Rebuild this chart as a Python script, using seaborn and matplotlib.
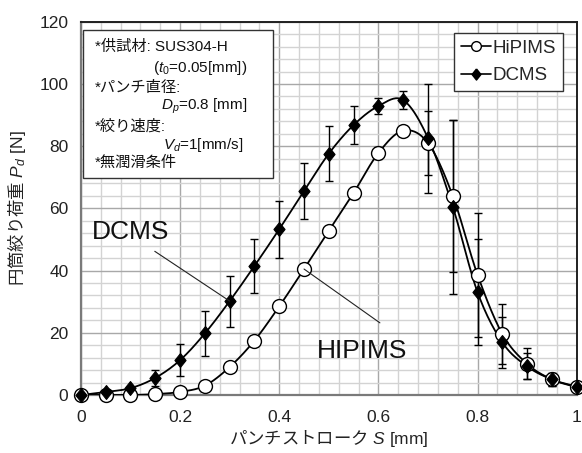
import numpy as np
import pandas as pd
import matplotlib
matplotlib.use("Agg")
import matplotlib.pyplot as plt
from matplotlib.ticker import MultipleLocator
from matplotlib.lines import Line2D
from matplotlib.patches import Rectangle
import seaborn as sns

# ---- data ----
stroke = [0.0, 0.05, 0.10, 0.15, 0.20, 0.25, 0.30, 0.35, 0.40, 0.45, 0.50,
          0.55, 0.60, 0.65, 0.70, 0.75, 0.80, 0.85, 0.90, 0.95, 1.00]
hipims = [0.0, 0.0, 0.0, 0.3, 1.0, 3.0, 9.0, 17.5, 28.5, 40.5, 52.8,
          65.0, 77.8, 85.0, 81.0, 64.0, 38.6, 19.6, 10.0, 5.0, 2.5]
hipims_err = [0, 0, 0, 0, 0.5, 0.5, 0.5, 1, 1, 1, 1.5,
              2, 2, 1.5, 10.4, 24.5, 19.8, 9.7, 5.0, 2.0, 1.0]
dcms = [0.0, 1.0, 2.2, 5.5, 11.2, 19.8, 30.2, 41.5, 53.3, 65.6, 77.6,
        86.8, 92.9, 94.8, 82.6, 60.5, 33.0, 16.9, 9.2, 5.0, 2.7]
dcms_err = [0, 0.3, 0.5, 2.5, 5.2, 7.1, 8.2, 8.7, 9.1, 9.1, 8.8,
            6.1, 2.6, 3.0, 17.5, 28.0, 17.0, 8.3, 4.2, 2.0, 1.0]
series_names = ["HiPIMS", "DCMS"]
xticks = [0, 0.2, 0.4, 0.6, 0.8, 1]
xticklabels = ["0", "0.2", "0.4", "0.6", "0.8", "1"]
yticks = [0, 20, 40, 60, 80, 100, 120]

sns.set_style("white")
plt.rcParams['font.family'] = ['Liberation Sans', 'Noto Sans CJK JP', 'DejaVu Sans']
plt.rcParams['mathtext.fontset'] = 'custom'
plt.rcParams['mathtext.rm'] = 'Liberation Sans'
plt.rcParams['mathtext.it'] = 'Liberation Sans:italic'
plt.rcParams['mathtext.sf'] = 'Noto Sans CJK JP'


def smooth(xs, ys, n=20):
    """Catmull-Rom curve through the given points (for drawing only)."""
    xs = np.asarray(xs, float)
    ys = np.asarray(ys, float)
    P = np.column_stack([xs, ys])
    P = np.vstack([2 * P[0] - P[1], P, 2 * P[-1] - P[-2]])
    out = []
    t = np.linspace(0, 1, n, endpoint=False)[:, None]
    for i in range(1, len(P) - 2):
        p0, p1, p2, p3 = P[i - 1], P[i], P[i + 1], P[i + 2]
        seg = 0.5 * ((2 * p1) + (-p0 + p2) * t + (2 * p0 - 5 * p1 + 4 * p2 - p3) * t ** 2
                     + (-p0 + 3 * p1 - 3 * p2 + p3) * t ** 3)
        out.append(seg)
    out.append(P[-2][None, :])
    return np.vstack(out)


fig = plt.figure(figsize=(5.82, 4.53), dpi=100)
ax = fig.add_axes([0.139, 0.128, 0.852, 0.824])

ax.set_xlim(0, 1)
ax.set_ylim(0, 120)
ax.xaxis.set_major_locator(MultipleLocator(0.2))
ax.xaxis.set_minor_locator(MultipleLocator(0.04))
ax.yaxis.set_major_locator(MultipleLocator(20))
ax.yaxis.set_minor_locator(MultipleLocator(4))
ax.grid(which='minor', color='#d3d3d3', lw=1.0, zorder=0)
ax.grid(which='major', color='#a8a8a8', lw=1.0, zorder=0)
ax.set_axisbelow(True)

diamond = [(0, 1), (0.8, 0), (0, -1), (-0.8, 0), (0, 1)]

for name, ys, es in [("HiPIMS", hipims, hipims_err), ("DCMS", dcms, dcms_err)]:
    ax.errorbar(stroke, ys, yerr=es, fmt='none', ecolor='black', elinewidth=1.0,
                capsize=2.8, capthick=1.0, zorder=3)

for name, ys in [("HiPIMS", hipims), ("DCMS", dcms)]:
    c = smooth(stroke, ys)
    df = pd.DataFrame({"x": c[:, 0], "y": c[:, 1]})
    sns.lineplot(data=df, x="x", y="y", sort=False, color='black', lw=1.3,
                 ax=ax, zorder=4, estimator=None)

dfh = pd.DataFrame({"x": stroke, "y": hipims})
dfd = pd.DataFrame({"x": stroke, "y": dcms})
sns.scatterplot(data=dfh, x="x", y="y", marker='o', s=100, facecolor='white',
                edgecolor='black', linewidth=1.0, ax=ax, zorder=5, clip_on=False)
sns.scatterplot(data=dfd, x="x", y="y", marker=diamond, s=100, color='black',
                edgecolor='black', linewidth=0.8, ax=ax, zorder=6, clip_on=False)

ax.set_xticks(xticks)
ax.set_xticklabels(xticklabels)
ax.set_yticks(yticks)
ax.tick_params(which='major', direction='out', length=4, width=1, color='#808080',
               labelsize=12.5, labelcolor='#222222', pad=5)
ax.tick_params(which='minor', length=0)
ax.tick_params(axis='x', pad=7)

for s in ['left', 'bottom']:
    ax.spines[s].set_color('#7a7a7a')
    ax.spines[s].set_linewidth(1.6)
for s in ['top', 'right']:
    ax.spines[s].set_color('#202020')
    ax.spines[s].set_linewidth(1.4)

ax.set_xlabel(r"$\mathsf{パンチストローク}$ $S$ [mm]", fontsize=12.5, color='#222222', labelpad=2)
ax.set_ylabel(r"$\mathsf{円筒絞り荷重}$ $P_d$ [N]", fontsize=12.5, color='#222222', labelpad=8)

# Conditions box
ax.add_patch(Rectangle((0.004, 0.581), 0.383, 0.397, transform=ax.transAxes,
                       facecolor='white', edgecolor='#333333', lw=1.0, zorder=7))
box_lines = [
    (95, 46.7, "*供試材: SUS304-H"),
    (153, 68.3, "($t_0$=0.05[mm])"),
    (95, 87.7, "*パンチ直径:"),
    (161, 106, "$D_p$=0.8 [mm]"),
    (95, 126, "*絞り速度:"),
    (163, 145, "$V_d$=1[mm/s]"),
    (95, 163.3, "*無潤滑条件"),
]
for px, py, txt in box_lines:
    fx = (px - 81) / 496.0
    fy = (395 - py) / 373.3
    ax.text(fx, fy, txt, transform=ax.transAxes, fontsize=11, ha='left', va='center',
            color='#111111', zorder=8)

# Legend
handles = [
    Line2D([], [], color='black', lw=1.2, marker='o', markersize=7,
           markerfacecolor='white', markeredgecolor='black'),
    Line2D([], [], color='black', lw=1.2, marker=diamond, markersize=8,
           markerfacecolor='black', markeredgecolor='black'),
]
leg = ax.legend(handles, series_names, loc='upper right', bbox_to_anchor=(0.972, 0.970),
                fontsize=13.5, frameon=True, fancybox=False, edgecolor='#333333',
                framealpha=1, handlelength=1.6, handletextpad=0.1, borderpad=0.35,
                labelspacing=0.55, borderaxespad=0)
leg.get_frame().set_linewidth(1.0)
leg.set_zorder(9)

# Annotations
ax.annotate("", xy=(0.30, dcms[6]), xytext=(0.149, 46.2),
            arrowprops=dict(arrowstyle='-', color='#222222', lw=0.8, shrinkA=0, shrinkB=0),
            zorder=8)
ax.text(0.101, 48.6, "DCMS", fontsize=19, ha='center', va='bottom', color='#111111', zorder=8)
ax.annotate("", xy=(0.45, hipims[9]), xytext=(0.603, 23.2),
            arrowprops=dict(arrowstyle='-', color='#222222', lw=0.8, shrinkA=0, shrinkB=0),
            zorder=8)
ax.text(0.567, 14.1, "HIPIMS", fontsize=19, ha='center', va='center', color='#111111', zorder=8)

fig.savefig("out.png", dpi=100)
